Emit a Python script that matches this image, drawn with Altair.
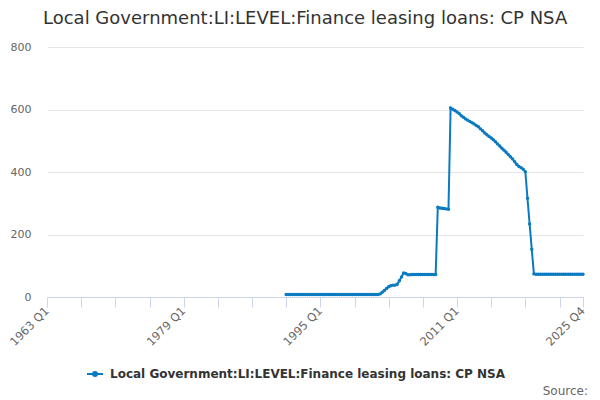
import altair as alt
import pandas as pd

SERIES = "Local Government:LI:LEVEL:Finance leasing loans: CP NSA"

start_year = 1991
# quarterly values, 1991 Q1 .. 2025 Q4
vals_1991_2001 = [8] * 44
vals_2002_2004 = [10, 15, 21, 27, 33, 36, 38, 38, 41, 52, 64, 77]
vals_2005_2008q3 = [75, 71, 71, 72, 72, 72, 72, 72, 72, 72, 72, 72, 72, 72, 72]
vals_2008q4_2010q1 = [287, 285, 284, 283, 282, 281]
vals_2010q2_2019q1 = [605, 601, 597, 592, 587, 580, 575, 570, 566, 562, 558, 554,
                      549, 545, 538, 532, 525, 519, 514, 509, 503, 497, 490, 483,
                      476, 470, 463, 456, 449, 442, 433, 424, 418, 414, 409, 401]
vals_2019q2_2020q1 = [316, 234, 153, 74]
vals_2020q2_2025q4 = [73] * 23

values = (vals_1991_2001 + vals_2002_2004 + vals_2005_2008q3 + vals_2008q4_2010q1
          + vals_2010q2_2019q1 + vals_2019q2_2020q1 + vals_2020q2_2025q4)

periods = []
tvals = []
for i in range(len(values)):
    y = start_year + i // 4
    q = i % 4 + 1
    periods.append(f"{y} Q{q}")
    tvals.append(y + (q - 1) / 4)

df = pd.DataFrame({"period": periods, "t": tvals, "value": values, "series": SERIES})

x_ticks = [1963 + 4 * k for k in range(16)] + [2025.75]
y_ticks = [0, 200, 400, 600, 800]

color = "#0b7bc1"

line = alt.Chart(df).mark_line(
    strokeWidth=2,
    point=alt.OverlayMarkDef(size=12, filled=True, color=color),
).encode(
    x=alt.X("t:Q", scale=alt.Scale(domain=[1963, 2025.75], nice=False, zero=False),
            axis=alt.Axis(values=x_ticks, title=None, grid=False,
                          labelExpr="datum.value == 2025.75 ? '2025 Q4' : ((datum.value - 1963) % 16 == 0 ? datum.value + ' Q1' : '')",
                          labelAngle=-45, labelAlign="right", labelBaseline="middle",
                          labelPadding=2, labelOverlap=False, labelFlush=False, labelBound=False,
                          tickSize=10, tickColor="#ccd6eb", domainColor="#ccd6eb",
                          labelColor="#666666", labelFontSize=11.5, labelFont="DejaVu Sans")),
    y=alt.Y("value:Q", scale=alt.Scale(domain=[0, 800], nice=False),
            axis=alt.Axis(values=y_ticks, title=None, domain=False, ticks=False,
                          gridColor="#e6e6e6", labelColor="#666666", labelFontSize=11,
                          labelFont="DejaVu Sans", labelPadding=16)),
    color=alt.Color("series:N", scale=alt.Scale(range=[color]),
                    legend=alt.Legend(title=None, orient="none", legendX=39, legendY=318,
                                      symbolType="M-1,0L1,0M-0.25,0a0.25,0.25 0 1,0 0.5,0a0.25,0.25 0 1,0 -0.5,0",
                                      symbolSize=256, symbolStrokeWidth=2,
                                      labelFontSize=12, labelFontWeight="bold",
                                      labelColor="#333333", labelFont="DejaVu Sans",
                                      labelOffset=6, labelLimit=600, padding=0)),
)

source = alt.Chart(pd.DataFrame({"label": ["Source:"]})).mark_text(
    align="right", baseline="alphabetic", fontSize=12, color="#666666", font="DejaVu Sans"
).encode(x=alt.value(541), y=alt.value(348), text="label:N")

chart = alt.layer(line, source).properties(
    width=536, height=250,
    padding={"left": 39, "top": 39, "right": 9, "bottom": 101},
    autosize=alt.AutoSizeParams(type="none"),
    title=alt.TitleParams(SERIES, anchor="start", frame="group", dx=-4, dy=1, fontSize=18,
                          fontWeight="normal", color="#333333", font="DejaVu Sans",
                          offset=0, baseline="alphabetic"),
).configure_view(stroke=None)

chart.save("out.html", embed_options={"renderer": "svg", "actions": False})
